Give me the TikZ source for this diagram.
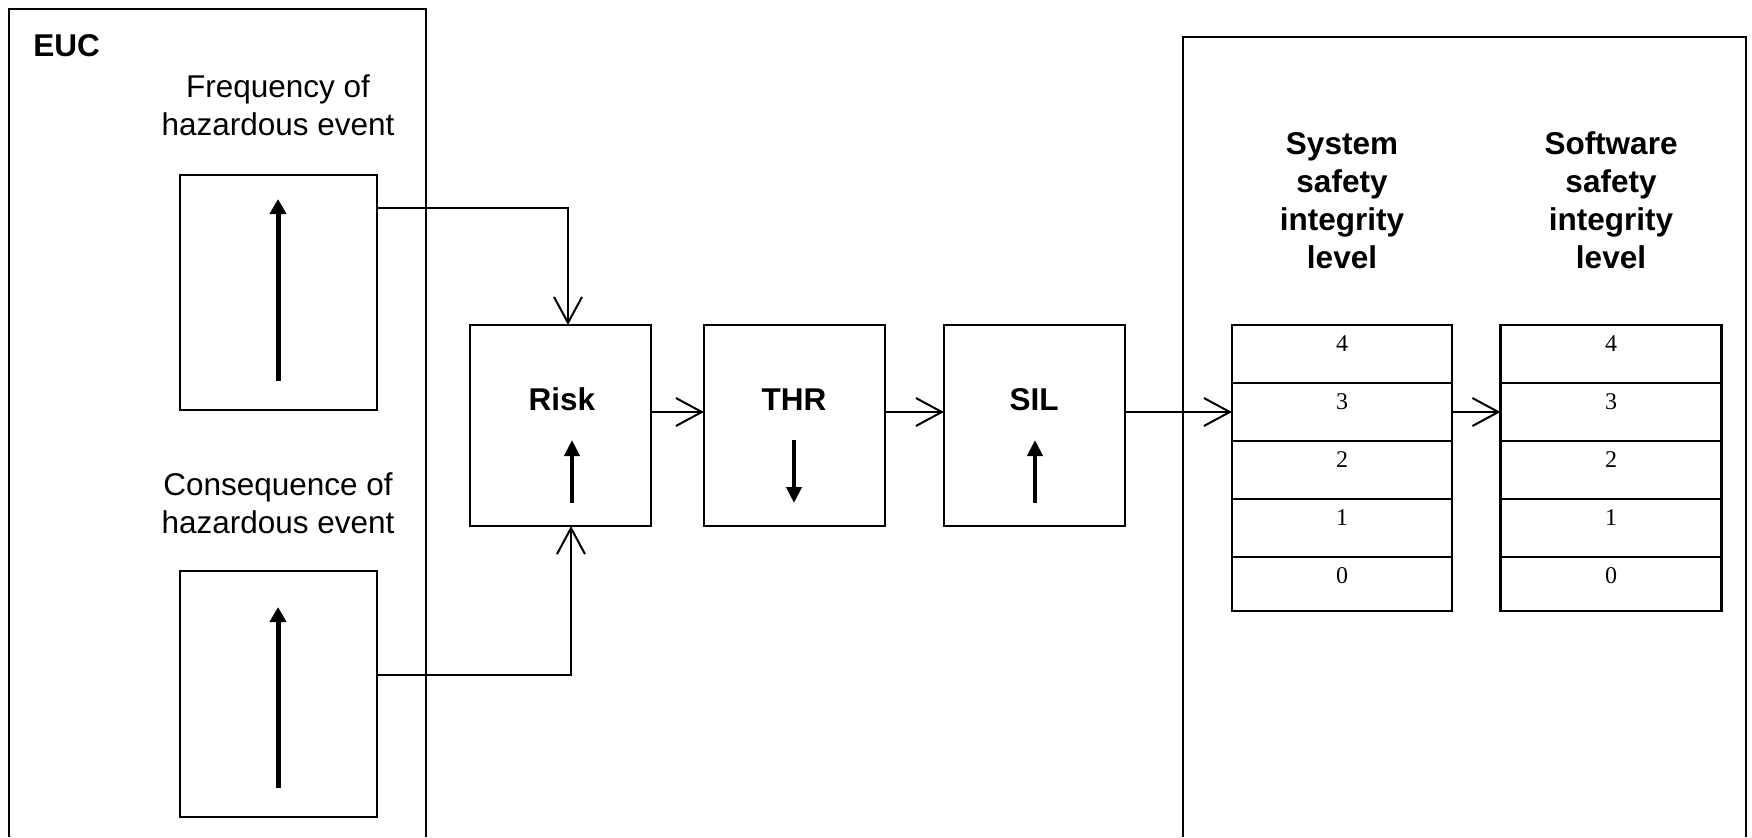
\documentclass[tikz,border=0pt]{standalone}
\usepackage{fontspec}
\setmainfont{Liberation Sans}
\newfontfamily\numfont{Liberation Serif}
\usetikzlibrary{arrows.meta}
\begin{document}
\begin{tikzpicture}[x=0.5pt,y=-0.5pt,
  font=\fontsize{15.75}{19}\selectfont,
  frame/.style={line width=1pt},
  box/.style={draw, line width=1pt, inner sep=0pt, outer sep=0pt},
  row/.style={draw, line width=1pt, inner sep=0pt, outer sep=0pt},
  conn/.style={line width=1pt, -{Straight Barb[length=13pt,width=14pt]}},
  bigarrow/.style={line width=2.5pt, -{Triangle[length=7.5pt,width=8pt]}},
  smallarrow/.style={line width=2.2pt, -{Triangle[length=8pt,width=7.5pt]}},
  lbl/.style={align=center, inner sep=0pt, anchor=base},
  blbl/.style={align=center, inner sep=0pt, anchor=base, font=\fontsize{15.75}{19}\selectfont\bfseries},
  num/.style={inner sep=0pt, font=\numfont\fontsize{12}{14}\selectfont}]
\useasboundingbox (0,0) rectangle (1752,837);

% containers
\draw[frame] (9,837) -- (9,9) -- (426,9) -- (426,837);
\draw[frame] (1183,837) -- (1183,37) -- (1746,37) -- (1746,837);
\node[blbl, anchor=base west] (euc) at (33,56) {EUC};

% EUC inputs
\node[lbl] (freqlbl) at (278,135) {Frequency of\\hazardous event};
\node[box, minimum width=98.5pt, minimum height=117.5pt] (freq) at (278.5,292.5) {};
\draw[bigarrow] (278,381) -- (278,199);

\node[lbl] (conslbl) at (278,533) {Consequence of\\hazardous event};
\node[box, minimum width=98.5pt, minimum height=123pt] (cons) at (278.5,694) {};
\draw[bigarrow] (278,788) -- (278,607);

% chain
\node[box, minimum width=90.5pt, minimum height=100.5pt] (risk) at (560.5,425.5) {};
\node[box, minimum width=90.5pt, minimum height=100.5pt] (thr) at (794.5,425.5) {};
\node[box, minimum width=90.5pt, minimum height=100.5pt] (sil) at (1034.5,425.5) {};
\node[blbl] (risklbl) at (562,410) {Risk};
\node[blbl] (thrlbl) at (794,410) {THR};
\node[blbl] (sillbl) at (1034,410) {SIL};
\draw[smallarrow] (572,503) -- (572,440);
\draw[smallarrow] (794,440) -- (794,503);
\draw[smallarrow] (1035,503) -- (1035,440);

% SIL tables
\node[blbl] (syslbl) at (1342,268) {System\\safety\\integrity\\level};
\node[blbl] (swlbl) at (1611,268) {Software\\safety\\integrity\\level};

\foreach \n/\yc/\h in {4/354/29pt, 3/412/29pt, 2/470/29pt, 1/528/29pt, 0/584/27pt}{
  \node[row, minimum width=110pt, minimum height=\h] (sys\n) at (1342,\yc) {};
  \node[row, line width=1.3pt, minimum width=110.5pt, minimum height=\h] (sw\n) at (1611,\yc) {};
}
\foreach \n/\yt in {4/325, 3/383, 2/441, 1/499, 0/557}{
  \node[num] (sysn\n) at (1342,\yt+19) {\n};
  \node[num] (swn\n) at (1611,\yt+19) {\n};
}

% connectors
\draw[conn] ([yshift=42.25pt]freq.east) -| ([xshift=3.75pt]risk.north);
\draw[conn] ([yshift=9.5pt]cons.east) -| ([xshift=5.25pt]risk.south);
\draw[conn] (risk.east |- sys3) -- (thr.west |- sys3);
\draw[conn] (thr.east |- sys3) -- (sil.west |- sys3);
\draw[conn] (sil.east |- sys3) -- (sys3.west);
\draw[conn] (sys3.east) -- (sw3.west);
\end{tikzpicture}
\end{document}
